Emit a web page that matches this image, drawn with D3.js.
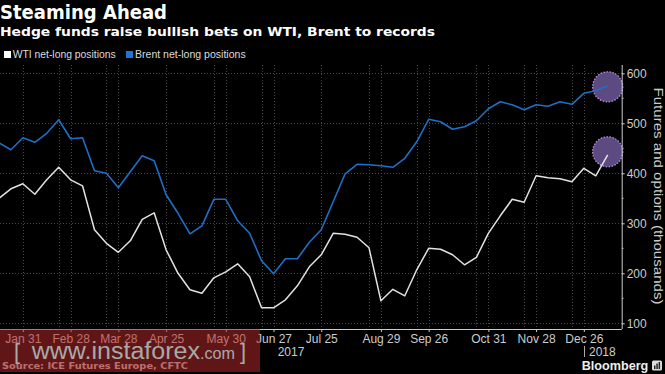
<!DOCTYPE html>
<html><head><meta charset="utf-8">
<script src="https://cdn.jsdelivr.net/npm/d3@7"></script>
<style>html,body{margin:0;padding:0;background:#000;overflow:hidden}</style>
</head><body>
<svg id="c" width="665" height="374"></svg>
<script>
const startDate = "2017-01-17";
const numWeeks = 52;
const wti = [350,369,379, 358,387,412,387, 375,287,260,242, 265,308,321,247, 200,167,160,191,203, 219,193,131,131, 147,175,213,237, 280,278,272,251,145, 168,155,207,250, 248,237,217,232,280, 315,348,342,395, 391,389,383,410, 395,437];
const brent = [461,447,471, 462,480,507,469, 471,405,400,371, 403,435,425,357, 320,279,295,348,348, 305,280,225,199, 229,229,262,287, 343,399,418,417,415, 412,430,463,508, 503,488,493,505,529, 543,537,527,537, 534,543,538,560, 565,575];
const tickLabels = ["Jan 31","Feb 28","Mar 28","Apr 25","May 30","Jun 27","Jul 25","Aug 29","Sep 26","Oct 31","Nov 28","Dec 26"];
const tickDates = ["2017-01-31","2017-02-28","2017-03-28","2017-04-25","2017-05-30","2017-06-27","2017-07-25","2017-08-29","2017-09-26","2017-10-31","2017-11-28","2017-12-26"];
const minorGridDates = ["2017-02-21","2017-03-21","2017-05-23","2017-06-20","2017-08-22","2017-09-19","2017-10-24","2017-11-21","2017-12-19"];
const yTicks = [100,200,300,400,500,600];
const yMinor = [150,250,350,450,550];

const parse = d3.utcParse("%Y-%m-%d");
const d0 = parse(startDate);
const dates = d3.range(numWeeks).map(i => d3.utcDay.offset(d0, i*7));

const svg = d3.select("#c");
const W = 665, H = 374;
svg.append("rect").attr("width",W).attr("height",H).attr("fill","#000");

const plotL = 0, plotR = 621.7, plotT = 65, plotB = 329;
const x = d3.scaleUtc().domain([dates[0], dates[dates.length-1]]).range([-1, 607.7]);
const y = d3.scaleLinear().domain([100,600]).range([323.3, 73.3]);

svg.append("clipPath").attr("id","clip").append("rect")
  .attr("x",plotL).attr("y",plotT-10).attr("width",plotR-plotL).attr("height",plotB-plotT+10);

const grid = svg.append("g").attr("stroke","#4a4a4a").attr("stroke-width",1).attr("stroke-dasharray","1,2");
yTicks.forEach(v => grid.append("line").attr("x1",plotL).attr("x2",plotR).attr("y1",Math.round(y(v))+0.5).attr("y2",Math.round(y(v))+0.5));
tickDates.concat(minorGridDates).forEach(s => {
  const xx = Math.round(x(parse(s)))+0.5;
  grid.append("line").attr("x1",xx).attr("x2",xx).attr("y1",plotT).attr("y2",plotB);
});

// highlight circles
const lastI = dates.length-1;
[brent, wti].forEach(arr => {
  svg.append("circle").attr("cx", x(dates[lastI])).attr("cy", y(arr[lastI]) + (arr===wti?-3:1))
    .attr("r",15).attr("fill","#5c4a80").attr("stroke","#c08ee8").attr("stroke-width",1.3).attr("stroke-dasharray","1.5,1.5");
});

const line = d3.line().x((d,i)=>x(dates[i])).y(d=>y(d));
const lg = svg.append("g").attr("clip-path","url(#clip)");
lg.append("path").datum(brent).attr("d",line).attr("fill","none").attr("stroke","#1f6fc6").attr("stroke-width",1.6).attr("stroke-linejoin","round");
lg.append("path").datum(wti).attr("d",line).attr("fill","none").attr("stroke","#e2e2e2").attr("stroke-width",1.5).attr("stroke-linejoin","round");

// right axis
const ya = svg.append("g").attr("transform",`translate(${plotR},0)`)
  .call(d3.axisRight(y).tickValues(yTicks).tickSize(3).tickPadding(2).tickFormat(d3.format("d")));
ya.select(".domain").remove();
ya.selectAll("line").attr("stroke","#ccc");
ya.selectAll("text").attr("fill","#ccc").attr("font-family","Liberation Sans, Arial, sans-serif").attr("font-size",12);
svg.append("line").attr("x1",plotR+0.5).attr("x2",plotR+0.5).attr("y1",plotT).attr("y2",plotB).attr("stroke","#ccc");
yMinor.forEach(v => svg.append("line").attr("x1",plotR).attr("x2",plotR+2).attr("y1",y(v)).attr("y2",y(v)).attr("stroke","#aaa"));

svg.append("text").attr("transform",`translate(653.5,196) rotate(90)`).attr("text-anchor","middle")
  .attr("fill","#ccc").attr("font-family","Liberation Sans, Arial, sans-serif").attr("font-size",13.5)
  .attr("textLength",217).attr("lengthAdjust","spacingAndGlyphs").text("Futures and options (thousands)");

// bottom axis
svg.append("line").attr("x1",plotL).attr("x2",plotR).attr("y1",plotB+0.5).attr("y2",plotB+0.5).attr("stroke","#ccc");
const xa = svg.append("g").attr("transform",`translate(0,${plotB})`)
  .call(d3.axisBottom(x).tickValues(tickDates.map(parse)).tickSize(3).tickPadding(2).tickFormat((d,i)=>tickLabels[i]));
xa.select(".domain").remove();
xa.selectAll("line").attr("stroke","#ccc");
xa.selectAll("text").attr("fill","#ccc").attr("font-family","Liberation Sans, Arial, sans-serif").attr("font-size",12);
svg.append("text").attr("x",291).attr("y",356).attr("text-anchor","middle").attr("fill","#ccc")
  .attr("font-family","Liberation Sans, Arial, sans-serif").attr("font-size",12).text("2017");
svg.append("line").attr("x1",584.5).attr("x2",584.5).attr("y1",346).attr("y2",357).attr("stroke","#aaa");
svg.append("text").attr("x",589).attr("y",356).attr("fill","#ccc")
  .attr("font-family","Liberation Sans, Arial, sans-serif").attr("font-size",12).text("2018");

// titles
svg.append("text").attr("x",0).attr("y",18.5).attr("fill","#fff").attr("font-family","DejaVu Sans, sans-serif")
  .attr("font-weight","bold").attr("font-size",19).attr("textLength",167).attr("lengthAdjust","spacingAndGlyphs").text("Steaming Ahead");
svg.append("text").attr("x",0).attr("y",36).attr("fill","#fff").attr("font-family","DejaVu Sans, sans-serif")
  .attr("font-weight","bold").attr("font-size",12.8).attr("textLength",435).attr("lengthAdjust","spacingAndGlyphs").text("Hedge funds raise bullish bets on WTI, Brent to records");

// legend
svg.append("rect").attr("x",4).attr("y",51).attr("width",7).attr("height",7).attr("fill","#fff");
svg.append("text").attr("x",12.7).attr("y",57.8).attr("fill","#ddd").attr("font-family","Liberation Sans, Arial, sans-serif")
  .attr("font-size",10.5).attr("textLength",103).attr("lengthAdjust","spacingAndGlyphs").text("WTI net-long positions");
svg.append("rect").attr("x",126).attr("y",51).attr("width",7).attr("height",7).attr("fill","#1f74d8");
svg.append("text").attr("x",135).attr("y",57.8).attr("fill","#ddd").attr("font-family","Liberation Sans, Arial, sans-serif")
  .attr("font-size",10.5).attr("textLength",110.7).attr("lengthAdjust","spacingAndGlyphs").text("Brent net-long positions");

// source
svg.append("text").attr("x",2).attr("y",369.3).attr("fill","#c8c8c8").attr("font-family","DejaVu Sans, sans-serif")
  .attr("font-weight","bold").attr("font-size",9.5).attr("textLength",186).attr("lengthAdjust","spacingAndGlyphs").text("Source: ICE Futures Europe, CFTC");

// Bloomberg
svg.append("text").attr("x",581.7).attr("y",370).attr("fill","#eee").attr("font-family","Liberation Sans, Arial, sans-serif")
  .attr("font-weight","bold").attr("font-size",13).attr("textLength",66.6).attr("lengthAdjust","spacingAndGlyphs").text("Bloomberg");
const logo = svg.append("g").attr("transform","translate(652,360.5)");
logo.append("rect").attr("width",10).attr("height",10).attr("rx",1.5).attr("fill","#ddd");
[[2,5,1.5],[4.3,3,1.5],[6.6,1.5,1.5]].forEach(b=>logo.append("rect").attr("x",b[0]).attr("y",b[1]).attr("width",b[2]).attr("height",8.5-b[1]).attr("fill","#222"));

// watermark overlay
svg.append("rect").attr("x",0).attr("y",329).attr("width",260).attr("height",43).attr("fill","rgba(175,40,40,0.55)");
const wm = svg.append("text").attr("y",358.5).attr("fill","#a9a9a9").attr("font-family","Liberation Sans, Arial, sans-serif");
wm.append("tspan").attr("x",14).attr("font-size",22).text("[");
wm.append("tspan").attr("x",31.7).attr("font-size",23).attr("textLength",168.3).attr("lengthAdjust","spacingAndGlyphs").text("www.instaforex");
wm.append("tspan").attr("x",200).attr("font-size",17).attr("textLength",35).attr("lengthAdjust","spacingAndGlyphs").text(".com");
wm.append("tspan").attr("x",240).attr("font-size",22).text("]");
</script>
</body></html>
